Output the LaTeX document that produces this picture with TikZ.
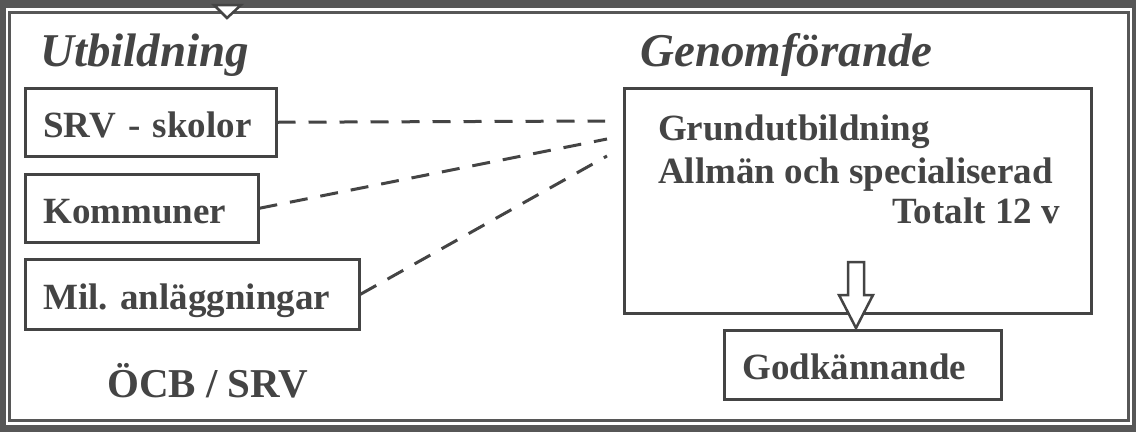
\documentclass[tikz,border=0pt]{standalone}
\usepackage{fontspec}
\setmainfont{Liberation Serif}
\usepackage{tikz}
\definecolor{ink}{HTML}{444444}
\definecolor{rim}{HTML}{575757}
\tikzset{
  box/.style={draw=ink, line width=2.5pt, anchor=north west, inner xsep=18pt, inner ysep=0pt,
    align=left, text height=34pt, text depth=4pt, text=ink, font=\fontsize{37}{42}\selectfont\bfseries},
  heading/.style={anchor=base west, inner sep=0pt, text=ink, font=\fontsize{47}{50}\selectfont\bfseries\itshape},
  body/.style={anchor=base west, inner sep=0pt, text=ink, font=\fontsize{37}{42}\selectfont\bfseries},
  link/.style={draw=ink, line width=3pt, dash pattern=on 18pt off 13pt},
  hollow/.style={draw=ink, line width=2.5pt, fill=white, line join=miter},
}
\begin{document}
\begin{tikzpicture}[x=1pt, y=-1pt]
  \useasboundingbox (0,0) rectangle (1136,432);
  % frame
  \fill[rim] (0,0) rectangle (1136,432);
  \fill[white] (6,8) rectangle (1132,425);
  \draw[rim, line width=3pt] (9.5,12) rectangle (1128.5,420.5);
  \coordinate (top) at (227,18);
  \draw[hollow] (top) -- ++(-13,-13) -- ++(27,0) -- cycle;

  % headings
  \node[heading] (utb) at (40,66) {Utbildning};
  \node[heading] (gen) at (640,66) {Genomförande};

  % left column
  \node[box, text width=215pt, minimum height=68pt] (srv) at (24,87) {SRV - skolor};
  \node[box, text width=197pt, minimum height=68pt] (komm) at (24,173) {Kommuner};
  \node[box, text width=298pt, minimum height=70pt] (mil) at (24,258) {Mil.\ anläggningar};
  \node[body, font=\fontsize{41}{44}\selectfont\bfseries] (ocb) at (107,397) {ÖCB / SRV};

  % right column
  \node[draw=ink, line width=2.5pt, anchor=north west, inner sep=0pt,
        minimum width=467pt, minimum height=225pt] (genom) at (623,87) {};
  \node[body] (grund) at (658,140) {Grundutbildning};
  \node[body] (allm) at (658,183) {Allmän och specialiserad};
  \node[body, anchor=base east] (tot) at (1060,223) {Totalt 12 v};
  \node[box, text width=241pt, minimum height=69pt] (godk) at (723,329) {Godkännande};

  % dashed links
  \coordinate (m1) at (605,121);
  \coordinate (m2) at (607,139);
  \coordinate (m3) at (607,156);
  \draw[link] (srv.east) -- (m1);
  \draw[link] (komm.east) -- (m2);
  \draw[link] (mil.east) -- (m3);

  % block arrow
  \coordinate (tip) at (856,328);
  \draw[hollow] (tip) -- ++(-17,-33) -- ++(9,0) -- ++(0,-33) -- ++(16,0)
    -- ++(0,33) -- ++(9,0) -- cycle;
\end{tikzpicture}
\end{document}
